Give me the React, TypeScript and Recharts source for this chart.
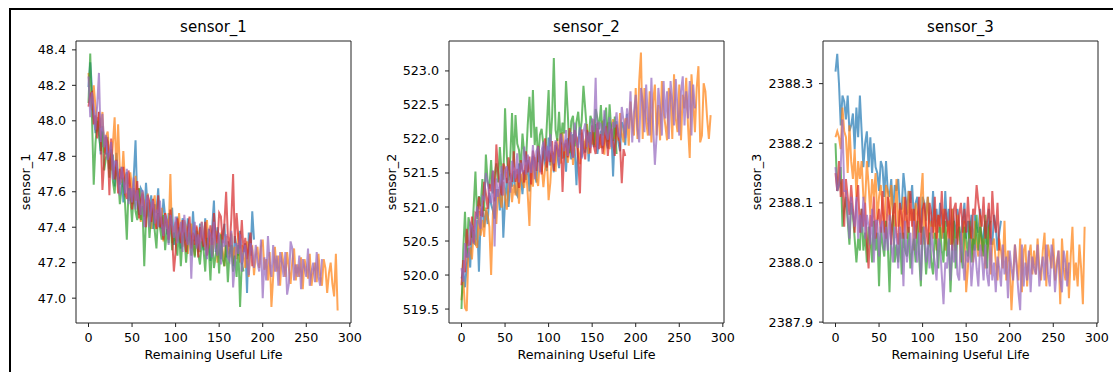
import { LineChart, Line, XAxis, YAxis, Label, ReferenceLine } from "recharts";

// Engine cycles are sampled every 2 steps of remaining useful life
const CYCLE_STEP = 2;

const X_TICKS = [0, 50, 100, 150, 200, 250, 300];
const X_DOMAIN: [number, number] = [-14.35, 301.35];

const S1_TICKS = [47.0, 47.2, 47.4, 47.6, 47.8, 48.0, 48.2, 48.4];
const S2_TICKS = [519.5, 520.0, 520.5, 521.0, 521.5, 522.0, 522.5, 523.0];
const S3_TICKS = [2387.9, 2388.0, 2388.1, 2388.2, 2388.3];

// tab10 colours, one per engine unit
const COLORS = ["#1f77b4", "#ff7f0e", "#2ca02c", "#d62728", "#9467bd"];

// ---- sensor_1 ----
const S1_BLUE = [48.19, 48.33, 48.18, 48.02, 47.93, 48.02, 47.96, 47.81, 47.97, 47.89, 47.81, 47.91, 47.73, 47.78, 47.81, 47.63, 47.82, 47.69, 47.64, 47.74, 47.54, 47.68, 47.71, 47.55, 47.62, 47.53, 47.69, 47.89, 47.54, 47.47, 47.62, 47.6, 47.46, 47.65, 47.51, 47.46, 47.58, 47.39, 47.53, 47.48, 47.62, 47.42, 47.39, 47.56, 47.46, 47.36, 47.48, 47.41, 47.51, 47.3, 47.41, 47.46, 47.35, 47.28, 47.45, 47.42, 47.32, 47.45, 47.35, 47.3, 47.49, 47.32, 47.38, 47.26, 47.42, 47.35, 47.27, 47.45, 47.3, 47.39, 47.21, 47.4, 47.55, 47.26, 47.4, 47.31, 47.22, 47.35, 47.42, 47.23, 47.32, 47.25, 47.36, 47.18, 47.35, 47.29, 47.24, 47.38, 47.19, 47.27, 47.31, 47.03, 47.37, 47.24, 47.49, 47.33];
const S1_ORANGE = [48.27, 48.11, 48.06, 48.2, 48.08, 47.94, 48.05, 47.96, 48.05, 47.82, 47.91, 47.94, 47.81, 47.72, 47.87, 48.02, 47.7, 47.98, 47.72, 47.65, 47.83, 47.64, 47.7, 47.56, 47.71, 47.62, 47.53, 47.69, 47.55, 47.62, 47.43, 47.6, 47.53, 47.45, 47.59, 47.49, 47.39, 47.52, 47.58, 47.39, 47.48, 47.4, 47.51, 47.32, 47.48, 47.43, 47.37, 47.7, 47.31, 47.38, 47.43, 47.32, 47.48, 47.35, 47.29, 47.44, 47.4, 47.25, 47.36, 47.42, 47.3, 47.24, 47.4, 47.36, 47.26, 47.43, 47.32, 47.27, 47.44, 47.28, 47.36, 47.24, 47.31, 47.38, 47.2, 47.34, 47.36, 47.27, 47.18, 47.35, 47.29, 47.23, 47.37, 47.19, 47.29, 47.22, 47.37, 47.2, 47.3, 47.24, 47.17, 47.32, 47.12, 47.28, 47.29, 47.13, 47.24, 47.29, 47.17, 47.29, 47.33, 47.16, 47.22, 47.1, 47.26, 46.95, 47.12, 47.29, 47.15, 47.24, 47.07, 47.26, 47.19, 47.12, 47.26, 47.17, 47.08, 47.21, 47.28, 47.1, 47.19, 47.12, 47.23, 47.05, 47.22, 47.17, 47.11, 47.25, 47.07, 47.15, 47.2, 47.09, 47.25, 47.12, 47.07, 47.22, 47.17, 47.03, 47.14, 47.2, 47.08, 47.01, 47.25, 46.93];
const S1_GREEN = [48.1, 48.38, 48.02, 47.64, 47.87, 48.0, 47.92, 47.83, 47.94, 47.72, 47.79, 47.82, 47.68, 47.84, 47.66, 47.59, 47.74, 47.68, 47.53, 47.62, 47.68, 47.53, 47.33, 47.62, 47.57, 47.43, 47.61, 47.49, 47.44, 47.62, 47.44, 47.52, 47.18, 47.45, 47.54, 47.34, 47.47, 47.49, 47.38, 47.28, 47.48, 47.4, 47.33, 47.47, 47.27, 47.39, 47.31, 47.46, 47.27, 47.37, 47.31, 47.24, 47.4, 47.18, 47.34, 47.37, 47.2, 47.32, 47.37, 47.24, 47.33, 47.23, 47.38, 47.25, 47.19, 47.32, 47.28, 47.15, 47.34, 47.29, 47.1, 47.34, 47.17, 47.24, 47.31, 47.14, 47.36, 47.22, 47.18, 47.3, 47.09, 47.26, 47.3, 47.15, 47.24, 47.12, 47.3, 46.95, 47.2, 47.15];
const S1_RED = [48.08, 48.15, 48.16, 47.98, 48.03, 47.9, 48.05, 47.93, 47.61, 47.77, 47.91, 47.88, 47.58, 47.9, 47.73, 47.67, 47.78, 47.59, 47.73, 47.67, 47.74, 47.59, 47.56, 47.72, 47.62, 47.5, 47.62, 47.55, 47.66, 47.45, 47.55, 47.59, 47.48, 47.4, 47.58, 47.54, 47.43, 47.56, 47.45, 47.39, 47.58, 47.4, 47.46, 47.33, 47.48, 47.42, 47.33, 47.5, 47.35, 47.15, 47.26, 47.45, 47.38, 47.31, 47.44, 47.35, 47.26, 47.39, 47.46, 47.28, 47.37, 47.3, 47.41, 47.23, 47.4, 47.34, 47.29, 47.43, 47.24, 47.32, 47.41, 47.3, 47.48, 47.35, 47.31, 47.48, 47.46, 47.31, 47.42, 47.6, 47.35, 47.29, 47.45, 47.7, 47.31, 47.48, 47.35, 47.28, 47.44, 47.26, 47.34, 47.22, 47.29, 47.37, 47.18];
const S1_PURPLE = [48.25, 48.02, 48.16, 48.08, 47.95, 48.09, 48.27, 47.88, 48.04, 47.85, 47.92, 47.78, 47.82, 47.88, 47.67, 47.77, 47.77, 47.68, 47.58, 47.74, 47.67, 47.59, 47.73, 47.53, 47.62, 47.54, 47.68, 47.5, 47.61, 47.54, 47.47, 47.61, 47.4, 47.55, 47.57, 47.4, 47.51, 47.55, 47.42, 47.5, 47.4, 47.55, 47.42, 47.35, 47.47, 47.43, 47.3, 47.47, 47.41, 47.34, 47.46, 47.31, 47.37, 47.43, 47.26, 47.47, 47.35, 47.3, 47.42, 47.11, 47.39, 47.43, 47.28, 47.36, 47.27, 47.43, 47.34, 47.29, 47.22, 47.38, 47.36, 47.23, 47.43, 47.28, 47.24, 47.37, 47.19, 47.33, 47.29, 47.36, 47.23, 47.21, 47.38, 47.06, 47.19, 47.31, 47.25, 47.36, 47.15, 47.26, 47.3, 47.2, 47.13, 47.31, 47.27, 47.17, 47.3, 47.2, 47.15, 47.33, 47.0, 47.23, 47.1, 47.35, 47.2, 47.12, 47.3, 47.15, 47.24, 47.07, 47.26, 47.2, 47.12, 47.26, 47.02, 47.08, 47.32, 47.28, 47.1, 47.19, 47.12, 47.24, 47.05, 47.22, 47.17, 47.12, 47.28, 47.07, 47.15, 47.2, 47.09, 47.26, 47.12, 47.07, 47.22];

// ---- sensor_2 ----
const S2_BLUE = [519.95, 520.06, 519.82, 520.13, 520.4, 520.11, 520.7, 520.47, 520.45, 520.81, 520.05, 520.84, 521.01, 520.7, 520.95, 520.75, 521.21, 521.04, 520.95, 520.83, 521.25, 521.25, 520.95, 521.49, 520.55, 521.08, 521.43, 521.0, 521.37, 521.3, 521.53, 521.22, 521.17, 521.64, 521.45, 521.19, 521.54, 521.4, 521.69, 521.23, 521.61, 521.75, 521.52, 521.36, 521.82, 521.74, 521.52, 521.89, 521.63, 521.53, 522.02, 521.61, 521.8, 521.51, 521.91, 521.77, 521.57, 522.03, 521.71, 521.93, 521.52, 522.01, 521.87, 521.7, 522.07, 521.84, 521.32, 521.98, 522.17, 521.73, 521.97, 521.8, 522.11, 521.67, 522.1, 521.99, 521.88, 522.22, 521.78, 521.99, 522.12, 521.86, 522.29, 521.97, 521.86, 522.25, 522.14, 521.45, 522.1, 522.26, 521.96, 521.82, 522.25, 522.17, 521.91, 522.37];
const S2_ORANGE = [519.63, 519.95, 519.52, 519.47, 520.38, 520.39, 520.23, 520.66, 520.46, 520.4, 520.94, 520.58, 520.81, 520.56, 520.99, 520.88, 520.71, 520.0, 520.9, 521.14, 520.75, 521.26, 521.14, 520.99, 521.37, 521.15, 520.96, 521.31, 521.5, 521.07, 521.33, 521.17, 521.48, 521.05, 521.49, 521.38, 521.28, 521.62, 521.19, 520.72, 521.55, 521.3, 521.73, 521.42, 521.31, 521.71, 521.61, 521.29, 521.57, 521.74, 521.1, 521.36, 521.82, 521.76, 521.52, 522.01, 521.75, 521.64, 522.1, 521.72, 521.94, 521.65, 521.84, 522.06, 521.62, 521.96, 522.03, 521.83, 521.63, 522.09, 521.99, 521.85, 522.22, 521.78, 522.06, 521.92, 522.29, 521.88, 522.16, 522.01, 521.87, 522.27, 521.77, 522.17, 522.24, 521.85, 522.16, 522.29, 522.0, 522.22, 521.98, 522.38, 522.09, 521.95, 522.29, 522.3, 521.9, 522.55, 522.2, 522.05, 522.75, 522.0, 522.85, 523.27, 522.0, 522.75, 522.25, 522.05, 522.7, 521.95, 522.55, 522.8, 522.05, 522.5, 521.98, 522.85, 522.4, 522.2, 521.98, 522.75, 522.65, 522.0, 522.95, 522.3, 522.1, 522.8, 521.98, 522.65, 522.45, 522.9, 522.2, 521.72, 522.95, 522.55, 522.1, 522.75, 523.07, 521.95, 522.05, 522.82, 522.7, 522.3, 522.0, 522.35];
const S2_GREEN = [519.5, 520.36, 520.93, 520.26, 520.85, 520.72, 520.55, 521.01, 521.52, 520.82, 521.16, 521.01, 521.41, 520.94, 521.77, 521.37, 521.27, 521.69, 521.2, 521.47, 521.64, 521.36, 521.88, 521.52, 521.4, 522.45, 521.76, 521.39, 521.72, 522.38, 521.58, 522.35, 521.93, 521.84, 521.55, 522.08, 521.79, 521.66, 522.2, 522.62, 522.02, 522.72, 521.91, 522.18, 521.66, 522.06, 522.15, 521.91, 521.68, 522.22, 522.72, 521.89, 522.32, 523.19, 522.13, 521.97, 522.4, 521.92, 522.24, 522.08, 522.85, 522.38, 521.79, 522.26, 522.34, 521.89, 522.25, 522.4, 522.06, 522.27, 522.78, 522.45, 522.11, 521.95, 522.34, 522.25, 521.91, 522.44, 522.31, 522.14, 522.5, 522.05, 522.27, 522.46, 521.96, 522.51, 522.12, 521.97, 522.33, 521.78];
const S2_RED = [519.85, 520.22, 520.04, 520.68, 520.44, 520.45, 520.86, 520.48, 520.91, 520.88, 521.15, 520.88, 520.87, 521.37, 521.2, 520.97, 521.34, 521.23, 521.53, 521.08, 521.92, 521.53, 521.32, 521.17, 521.64, 521.57, 521.35, 521.73, 521.47, 521.37, 521.82, 521.37, 521.56, 521.28, 521.69, 521.55, 521.36, 521.82, 521.51, 521.74, 521.33, 521.83, 521.69, 521.53, 521.9, 521.67, 521.48, 521.82, 522.01, 521.58, 521.83, 521.66, 521.97, 521.53, 521.96, 521.85, 521.74, 522.08, 521.22, 521.86, 521.99, 521.73, 522.16, 521.84, 521.73, 522.13, 522.02, 521.7, 521.2, 522.14, 521.84, 521.7, 522.13, 522.05, 521.79, 522.2, 521.89, 521.78, 522.24, 521.85, 522.07, 521.78, 521.97, 522.19, 521.75, 522.08, 522.15, 521.95, 521.75, 522.21, 522.06, 521.92, 521.35, 521.85, 521.75];
const S2_PURPLE = [520.1, 519.9, 520.47, 520.27, 520.27, 520.76, 520.72, 520.46, 520.8, 521.01, 520.77, 520.68, 521.15, 521.11, 521.5, 521.37, 521.14, 521.06, 521.54, 520.42, 521.42, 521.15, 521.36, 521.6, 521.17, 521.52, 521.6, 521.41, 521.21, 521.68, 521.55, 521.42, 521.79, 521.36, 521.65, 521.51, 521.89, 521.48, 521.77, 521.64, 521.5, 521.91, 521.41, 521.82, 521.89, 521.51, 521.83, 521.96, 521.67, 521.9, 521.67, 522.07, 521.78, 521.64, 521.98, 521.9, 521.61, 522.07, 521.96, 521.82, 522.13, 521.75, 521.94, 522.1, 521.72, 522.24, 521.95, 521.87, 522.18, 521.71, 522.1, 522.23, 521.88, 522.1, 521.87, 522.3, 522.1, 522.9, 521.85, 522.24, 522.22, 521.9, 522.42, 522.07, 521.99, 522.32, 521.88, 522.25, 522.17, 522.39, 522.06, 522.01, 522.47, 522.27, 522.01, 522.45, 522.15, 522.7, 521.95, 522.4, 522.65, 522.15, 521.95, 522.75, 522.55, 522.1, 522.8, 522.3, 522.05, 522.9, 522.2, 521.62, 522.05, 522.75, 522.45, 522.05, 522.85, 522.3, 522.7, 522.0, 522.85, 522.55, 522.2, 522.88, 522.45, 522.05, 522.7, 522.92, 522.2, 522.7, 522.3, 522.85, 522.05, 522.8, 522.45];

// ---- sensor_3 ----
const S3_BLUE = [2388.32, 2388.35, 2388.3, 2388.23, 2388.28, 2388.27, 2388.24, 2388.28, 2388.22, 2388.23, 2388.25, 2388.19, 2388.26, 2388.21, 2388.28, 2388.22, 2388.16, 2388.2, 2388.22, 2388.16, 2388.21, 2388.15, 2388.2, 2388.16, 2388.15, 2388.12, 2388.17, 2388.16, 2388.11, 2388.17, 2388.12, 2388.11, 2388.14, 2388.08, 2388.13, 2388.12, 2388.14, 2388.09, 2388.09, 2388.15, 2388.12, 2388.08, 2388.12, 2388.1, 2388.13, 2388.07, 2388.1, 2388.11, 2388.08, 2388.05, 2388.11, 2388.1, 2388.07, 2388.11, 2388.07, 2388.06, 2388.12, 2388.06, 2388.09, 2388.05, 2388.1, 2388.07, 2388.04, 2388.12, 2388.06, 2388.09, 2388.03, 2388.09, 2388.07, 2388.04, 2388.09, 2388.06, 2388.03, 2388.07, 2388.1, 2388.04, 2388.07, 2388.04, 2388.08, 2388.02, 2388.08, 2388.06, 2388.05, 2388.09, 2388.02, 2388.05, 2388.07, 2388.03, 2388.09, 2388.04, 2388.03, 2388.08, 2388.06, 2388.02, 2388.05, 2388.07];
const S3_ORANGE = [2388.21, 2388.22, 2388.21, 2388.19, 2388.26, 2388.22, 2388.21, 2388.15, 2388.23, 2388.17, 2388.14, 2388.19, 2388.11, 2388.17, 2388.14, 2388.17, 2388.11, 2388.1, 2388.17, 2388.13, 2388.08, 2388.14, 2388.11, 2388.15, 2388.07, 2388.11, 2388.13, 2388.09, 2388.05, 2388.13, 2388.12, 2388.07, 2388.13, 2388.08, 2388.06, 2388.14, 2388.06, 2388.09, 2388.04, 2388.11, 2388.08, 2388.04, 2388.12, 2388.07, 2388.09, 2388.02, 2388.1, 2388.08, 2388.05, 2388.11, 2388.15, 2388.03, 2388.08, 2388.11, 2388.03, 2388.07, 2388.04, 2388.09, 2388.02, 2388.08, 2388.06, 2388.04, 2388.09, 2388.02, 2388.05, 2388.07, 2388.03, 2388.09, 2388.04, 2388.02, 2388.08, 2388.06, 2388.0, 2388.05, 2388.07, 2387.95, 2387.99, 2388.06, 2388.04, 2388.0, 2388.07, 2388.03, 2388.01, 2388.08, 2388.01, 2388.04, 2387.99, 2388.02, 2388.06, 2387.98, 2388.03, 2388.04, 2388.0, 2387.97, 2388.04, 2388.02, 2387.99, 2388.07, 2387.97, 2388.02, 2388.0, 2387.92, 2387.98, 2388.03, 2388.0, 2387.97, 2388.04, 2387.95, 2388.02, 2388.03, 2387.96, 2388.01, 2388.03, 2387.98, 2388.02, 2387.98, 2388.04, 2387.99, 2387.97, 2388.02, 2388.05, 2387.96, 2388.03, 2388.01, 2387.99, 2388.04, 2387.97, 2388.0, 2388.02, 2387.93, 2388.04, 2387.99, 2387.97, 2388.02, 2387.94, 2388.01, 2388.06, 2387.97, 2388.0, 2387.96, 2388.03, 2387.99, 2387.93, 2388.06];
const S3_GREEN = [2388.2, 2388.12, 2388.13, 2388.16, 2388.06, 2388.09, 2388.11, 2388.07, 2388.03, 2388.1, 2388.08, 2388.04, 2388.0, 2388.04, 2388.02, 2388.09, 2388.02, 2388.05, 2388.0, 2388.06, 2388.04, 2388.0, 2388.07, 2388.02, 2388.05, 2387.96, 2388.06, 2388.03, 2388.01, 2388.07, 2388.03, 2387.95, 2388.05, 2388.08, 2388.0, 2388.03, 2388.0, 2388.05, 2387.98, 2388.05, 2388.02, 2388.01, 2388.06, 2387.99, 2388.02, 2388.04, 2388.0, 2388.07, 2388.01, 2387.96, 2388.06, 2388.04, 2387.98, 2388.02, 2388.05, 2388.0, 2387.98, 2388.05, 2388.03, 2387.99, 2388.06, 2388.02, 2388.0, 2388.07, 2388.01, 2388.04, 2387.95, 2388.02, 2388.07, 2387.99, 2388.05, 2388.06, 2388.02, 2387.99, 2388.06, 2388.04, 2388.01, 2388.07, 2388.0, 2388.04, 2388.02, 2388.08, 2388.02, 2388.06, 2388.04, 2388.01, 2388.08, 2387.99, 2388.06, 2388.07];
const S3_RED = [2388.15, 2388.12, 2388.17, 2388.11, 2388.14, 2388.06, 2388.14, 2388.11, 2388.08, 2388.13, 2388.09, 2388.05, 2388.1, 2388.13, 2388.05, 2388.09, 2388.06, 2388.1, 2388.03, 2387.99, 2388.08, 2388.06, 2388.11, 2388.04, 2388.07, 2388.09, 2388.05, 2388.12, 2388.06, 2388.04, 2388.11, 2388.09, 2388.03, 2388.08, 2388.1, 2388.05, 2388.03, 2388.1, 2388.08, 2388.04, 2388.11, 2388.07, 2388.05, 2388.12, 2388.06, 2388.09, 2388.04, 2388.07, 2388.11, 2388.03, 2388.09, 2388.1, 2388.06, 2388.03, 2388.1, 2388.08, 2388.05, 2388.11, 2388.04, 2388.08, 2388.06, 2388.12, 2388.05, 2388.09, 2388.07, 2388.04, 2388.11, 2388.02, 2388.09, 2388.1, 2388.03, 2388.08, 2388.1, 2388.05, 2388.09, 2388.05, 2388.11, 2388.06, 2388.04, 2388.09, 2388.08, 2388.13, 2388.1, 2388.08, 2388.06, 2388.11, 2388.04, 2388.07, 2388.1, 2388.03, 2388.12, 2388.07, 2388.05, 2388.1, 2388.02];
const S3_PURPLE = [2388.16, 2388.12, 2388.13, 2388.16, 2388.24, 2388.12, 2388.12, 2388.08, 2388.04, 2388.11, 2388.08, 2388.06, 2388.11, 2388.04, 2388.08, 2388.05, 2388.11, 2388.04, 2388.08, 2388.06, 2388.03, 2388.09, 2388.0, 2388.07, 2388.07, 2388.01, 2388.06, 2388.07, 2388.02, 2388.06, 2388.02, 2388.08, 2388.03, 2388.0, 2388.06, 2388.04, 2387.99, 2388.06, 2388.04, 2387.96, 2388.07, 2388.0, 2388.03, 2388.05, 2387.98, 2388.07, 2388.02, 2388.0, 2388.05, 2387.97, 2388.04, 2388.06, 2388.0, 2388.03, 2387.99, 2388.06, 2388.02, 2388.0, 2387.97, 2388.04, 2388.03, 2387.98, 2387.93, 2388.0, 2387.99, 2388.04, 2387.97, 2388.03, 2388.0, 2388.04, 2387.98, 2387.97, 2388.05, 2388.01, 2387.97, 2388.02, 2388.0, 2388.04, 2387.96, 2388.0, 2388.03, 2387.99, 2387.96, 2388.03, 2388.01, 2387.97, 2388.03, 2387.98, 2387.96, 2388.04, 2387.97, 2388.0, 2387.95, 2388.01, 2387.99, 2387.96, 2388.03, 2387.98, 2388.01, 2387.94, 2388.02, 2387.99, 2387.97, 2388.03, 2387.99, 2387.95, 2387.92, 2388.03, 2387.96, 2388.0, 2387.97, 2388.02, 2387.95, 2388.01, 2387.99, 2387.98, 2388.03, 2387.96, 2387.99, 2388.01, 2387.97, 2388.03, 2387.98, 2387.96, 2388.03, 2388.01, 2387.95, 2387.99, 2388.02, 2387.97, 2387.95, 2388.02, 2388.0, 2387.96, 2388.0];

const AXIS_COLOR = "#222";
const TEXT_COLOR = "#000";
const FONT = "'DejaVu Sans', sans-serif";
const TICK_FONT = 12.7;

const toPoints = (vals: number[]) =>
  vals.map((v, i) => ({ rul: i * CYCLE_STEP, value: v }));

interface PanelProps {
  title: string;
  series: number[][];
  yDomain: [number, number];
  yTicks: number[];
  left: number;
  yLabelOffset: number;
}

function SensorPanel({ title, series, yDomain, yTicks, left, yLabelOffset }: PanelProps) {
  return (
    <div style={{ position: "absolute", left, top: 0 }}>
      <LineChart
        width={375}
        height={372}
        margin={{ top: 41, right: 20, bottom: 0, left: 0 }}
        style={{ overflow: "visible" }}
      >
        <XAxis
          dataKey="rul"
          type="number"
          domain={X_DOMAIN}
          ticks={X_TICKS}
          allowDataOverflow
          height={49}
          tickSize={4}
          tickMargin={6}
          tick={{ fontSize: TICK_FONT, fill: TEXT_COLOR }}
          tickLine={{ stroke: AXIS_COLOR }}
          axisLine={{ stroke: AXIS_COLOR }}
        >
          <Label
            value="Remaining Useful Life"
            position="insideBottom"
            offset={13}
            fontSize={TICK_FONT}
            fill={TEXT_COLOR}
          />
        </XAxis>
        <YAxis
          type="number"
          domain={yDomain}
          ticks={yTicks}
          allowDataOverflow
          width={80}
          tickSize={4}
          tickMargin={6}
          tickFormatter={(v: number) => v.toFixed(1)}
          tick={{ fontSize: TICK_FONT, fill: TEXT_COLOR }}
          tickLine={{ stroke: AXIS_COLOR }}
          axisLine={{ stroke: AXIS_COLOR }}
        >
          <Label
            value={title}
            angle={-90}
            position="insideLeft"
            offset={yLabelOffset}
            fontSize={TICK_FONT}
            fill={TEXT_COLOR}
            style={{ textAnchor: "middle" }}
          />
        </YAxis>
        {series.map((vals, i) => (
          <Line
            key={i}
            data={toPoints(vals)}
            dataKey="value"
            type="linear"
            stroke={COLORS[i]}
            strokeOpacity={0.7}
            strokeWidth={2}
            dot={false}
            activeDot={false}
            isAnimationActive={false}
          />
        ))}
        {/* top and right spines, matplotlib style */}
        <ReferenceLine y={yDomain[1]} stroke={AXIS_COLOR} strokeWidth={1} ifOverflow="visible">
          <Label value={title} position="top" offset={9.5} fontSize={15} fill={TEXT_COLOR} />
        </ReferenceLine>
        <ReferenceLine x={X_DOMAIN[1]} stroke={AXIS_COLOR} strokeWidth={1} ifOverflow="visible" />
      </LineChart>
    </div>
  );
}

export default function App() {
  return (
    <div
      style={{
        position: "absolute",
        left: 0,
        top: 0,
        width: 1113,
        height: 372,
        background: "#fff",
        overflow: "hidden",
        fontFamily: FONT,
      }}
    >
      <div
        style={{
          position: "absolute",
          left: 9,
          top: 8,
          width: 1200,
          height: 400,
          borderTop: "2px solid #000",
          borderLeft: "2px solid #000",
        }}
      />
      <SensorPanel
        title="sensor_1"
        series={[S1_BLUE, S1_ORANGE, S1_GREEN, S1_RED, S1_PURPLE]}
        yDomain={[46.86, 48.45]}
        yTicks={S1_TICKS}
        left={-4}
        yLabelOffset={29.5}
      />
      <SensorPanel
        title="sensor_2"
        series={[S2_BLUE, S2_ORANGE, S2_GREEN, S2_RED, S2_PURPLE]}
        yDomain={[519.295, 523.44]}
        yTicks={S2_TICKS}
        left={369}
        yLabelOffset={22}
      />
      <SensorPanel
        title="sensor_3"
        series={[S3_BLUE, S3_ORANGE, S3_GREEN, S3_RED, S3_PURPLE]}
        yDomain={[2387.8985, 2388.3715]}
        yTicks={S3_TICKS}
        left={743}
        yLabelOffset={13}
      />
    </div>
  );
}
